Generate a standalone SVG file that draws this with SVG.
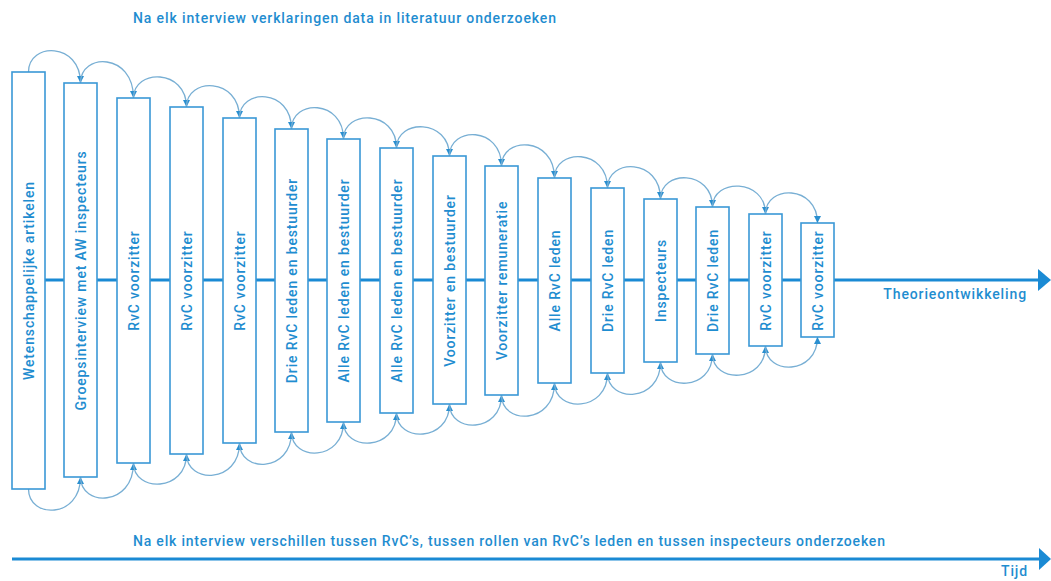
<svg xmlns="http://www.w3.org/2000/svg" width="1051" height="581" viewBox="0 0 1051 581">
<style>
.box{fill:#ffffff;stroke:#3a98d6;stroke-width:1.6}
.lbl{font-family:Roboto,"Liberation Sans",sans-serif;font-weight:500;font-size:14px;letter-spacing:0.85px;fill:#1f8dd0;text-anchor:middle}
.cap{font-family:Roboto,"Liberation Sans",sans-serif;font-weight:500;font-size:14px;letter-spacing:0.88px;fill:#1f8dd0}
.arc{fill:none;stroke:#78afd4;stroke-width:1.3}
.axis{stroke:#1a8ad4;stroke-width:3;fill:none}
.head{fill:#1a8ad4}
</style>
<defs>
<marker id="ah" viewBox="0 0 10 10" refX="10" refY="5" markerWidth="7" markerHeight="7" markerUnits="userSpaceOnUse" orient="auto">
<path d="M0,0 L10,5 L0,10 z" fill="#2a8fd0"/>
</marker>
</defs>
<g id="axes">
<line class="axis" x1="45" y1="280" x2="1040" y2="280"/>
<polygon class="head" points="1038,269 1051,280 1038,291"/>
<line class="axis" x1="12" y1="559" x2="1041" y2="559"/>
<polygon class="head" points="1039,548 1051,559 1039,570"/>
</g>
<g id="connectors">
<path class="arc" marker-end="url(#ah)" d="M28.5,72 C28.5,42 80.5,42 80.5,83"/>
<path class="arc" marker-end="url(#ah)" d="M80.5,83 C80.5,52.5 133.5,52.5 133.5,98"/>
<path class="arc" marker-end="url(#ah)" d="M133.5,98 C133.5,68.5 186.5,68.5 186.5,107"/>
<path class="arc" marker-end="url(#ah)" d="M186.5,107 C186.5,77 239.5,77 239.5,118"/>
<path class="arc" marker-end="url(#ah)" d="M239.5,118 C239.5,88 291.5,88 291.5,129"/>
<path class="arc" marker-end="url(#ah)" d="M291.5,129 C291.5,99 343.5,99 343.5,139"/>
<path class="arc" marker-end="url(#ah)" d="M343.5,139 C343.5,109.5 396.5,109.5 396.5,148"/>
<path class="arc" marker-end="url(#ah)" d="M396.5,148 C396.5,118.5 449.5,118.5 449.5,156"/>
<path class="arc" marker-end="url(#ah)" d="M449.5,156 C449.5,126 501.5,126 501.5,166"/>
<path class="arc" marker-end="url(#ah)" d="M501.5,166 C501.5,136 554.5,136 554.5,178"/>
<path class="arc" marker-end="url(#ah)" d="M554.5,178 C554.5,148 607.5,148 607.5,188"/>
<path class="arc" marker-end="url(#ah)" d="M607.5,188 C607.5,158 660.5,158 660.5,199"/>
<path class="arc" marker-end="url(#ah)" d="M660.5,199 C660.5,169.5 712.5,169.5 712.5,207"/>
<path class="arc" marker-end="url(#ah)" d="M712.5,207 C712.5,178 765.5,178 765.5,214"/>
<path class="arc" marker-end="url(#ah)" d="M765.5,214 C765.5,184.5 817.5,184.5 817.5,223"/>
<path class="arc" marker-end="url(#ah)" d="M28.5,489 C28.5,519 80.5,519 80.5,477"/>
<path class="arc" marker-end="url(#ah)" d="M80.5,477 C80.5,507 133.5,507 133.5,463"/>
<path class="arc" marker-end="url(#ah)" d="M133.5,463 C133.5,492.5 186.5,492.5 186.5,454"/>
<path class="arc" marker-end="url(#ah)" d="M186.5,454 C186.5,484 239.5,484 239.5,443"/>
<path class="arc" marker-end="url(#ah)" d="M239.5,443 C239.5,473 291.5,473 291.5,432"/>
<path class="arc" marker-end="url(#ah)" d="M291.5,432 C291.5,461.5 343.5,461.5 343.5,422"/>
<path class="arc" marker-end="url(#ah)" d="M343.5,422 C343.5,451.5 396.5,451.5 396.5,413"/>
<path class="arc" marker-end="url(#ah)" d="M396.5,413 C396.5,442.5 449.5,442.5 449.5,404"/>
<path class="arc" marker-end="url(#ah)" d="M449.5,404 C449.5,433.5 501.5,433.5 501.5,395"/>
<path class="arc" marker-end="url(#ah)" d="M501.5,395 C501.5,425 554.5,425 554.5,383"/>
<path class="arc" marker-end="url(#ah)" d="M554.5,383 C554.5,412.5 607.5,412.5 607.5,373"/>
<path class="arc" marker-end="url(#ah)" d="M607.5,373 C607.5,403 660.5,403 660.5,362"/>
<path class="arc" marker-end="url(#ah)" d="M660.5,362 C660.5,391.5 712.5,391.5 712.5,354"/>
<path class="arc" marker-end="url(#ah)" d="M712.5,354 C712.5,383.5 765.5,383.5 765.5,346"/>
<path class="arc" marker-end="url(#ah)" d="M765.5,346 C765.5,375.5 817.5,375.5 817.5,337"/>
</g>
<g id="n1"><rect class="box" x="12" y="72" width="33" height="417"/><text class="lbl" transform="translate(28.5,280.5) rotate(-90)" dy="0.36em">Wetenschappelijke artikelen</text></g>
<g id="n2"><rect class="box" x="64" y="83" width="33" height="394"/><text class="lbl" transform="translate(80.5,280.5) rotate(-90)" dy="0.36em">Groepsinterview met AW inspecteurs</text></g>
<g id="n3"><rect class="box" x="117" y="98" width="33" height="365"/><text class="lbl" transform="translate(133.5,280.5) rotate(-90)" dy="0.36em">RvC voorzitter</text></g>
<g id="n4"><rect class="box" x="170" y="107" width="33" height="347"/><text class="lbl" transform="translate(186.5,280.5) rotate(-90)" dy="0.36em">RvC voorzitter</text></g>
<g id="n5"><rect class="box" x="223" y="118" width="33" height="325"/><text class="lbl" transform="translate(239.5,280.5) rotate(-90)" dy="0.36em">RvC voorzitter</text></g>
<g id="n6"><rect class="box" x="275" y="129" width="33" height="303"/><text class="lbl" transform="translate(291.5,280.5) rotate(-90)" dy="0.36em">Drie RvC leden en bestuurder</text></g>
<g id="n7"><rect class="box" x="327" y="139" width="33" height="283"/><text class="lbl" transform="translate(343.5,280.5) rotate(-90)" dy="0.36em">Alle RvC leden en bestuurder</text></g>
<g id="n8"><rect class="box" x="380" y="148" width="33" height="265"/><text class="lbl" transform="translate(396.5,280.5) rotate(-90)" dy="0.36em">Alle RvC leden en bestuurder</text></g>
<g id="n9"><rect class="box" x="433" y="156" width="33" height="248"/><text class="lbl" transform="translate(449.5,280.5) rotate(-90)" dy="0.36em">Voorzitter en bestuurder</text></g>
<g id="n10"><rect class="box" x="485" y="166" width="33" height="229"/><text class="lbl" transform="translate(501.5,280.5) rotate(-90)" dy="0.36em">Voorzitter remuneratie</text></g>
<g id="n11"><rect class="box" x="538" y="178" width="33" height="205"/><text class="lbl" transform="translate(554.5,280.5) rotate(-90)" dy="0.36em">Alle RvC leden</text></g>
<g id="n12"><rect class="box" x="591" y="188" width="33" height="185"/><text class="lbl" transform="translate(607.5,280.5) rotate(-90)" dy="0.36em">Drie RvC leden</text></g>
<g id="n13"><rect class="box" x="644" y="199" width="33" height="163"/><text class="lbl" transform="translate(660.5,280.5) rotate(-90)" dy="0.36em">Inspecteurs</text></g>
<g id="n14"><rect class="box" x="696" y="207" width="33" height="147"/><text class="lbl" transform="translate(712.5,280.5) rotate(-90)" dy="0.36em">Drie RvC leden</text></g>
<g id="n15"><rect class="box" x="749" y="214" width="33" height="132"/><text class="lbl" transform="translate(765.5,280.5) rotate(-90)" dy="0.36em">RvC voorzitter</text></g>
<g id="n16"><rect class="box" x="801" y="223" width="33" height="114"/><text class="lbl" transform="translate(817.5,280.5) rotate(-90)" dy="0.36em">RvC voorzitter</text></g>
<g id="captions">
<text class="cap" x="133" y="23">Na elk interview verklaringen data in literatuur onderzoeken</text>
<text class="cap" x="133" y="546" style="letter-spacing:0.8px">Na elk interview verschillen tussen RvC’s, tussen rollen van RvC’s leden en tussen inspecteurs onderzoeken</text>
<text class="cap" x="1027" y="299" text-anchor="end">Theorieontwikkeling</text>
<text class="cap" x="1028" y="576" text-anchor="end">Tijd</text>
</g>
</svg>
